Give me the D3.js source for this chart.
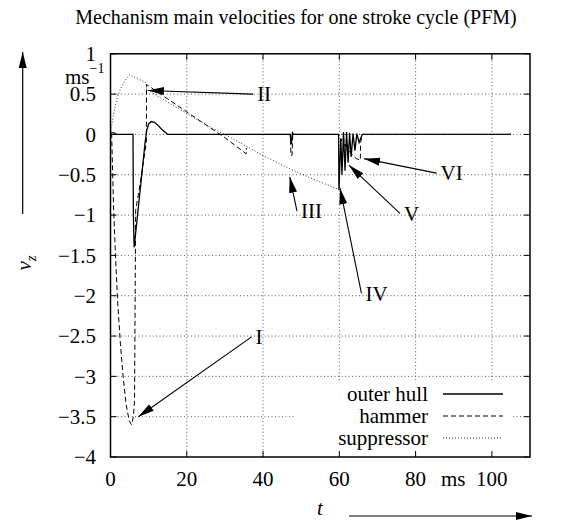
<!DOCTYPE html>
<html>
<head>
  <meta charset="utf-8">
  <title>Mechanism main velocities</title>
  <script src="https://d3js.org/d3.v7.min.js"></script>
  <style>
    body { margin: 0; background: #fff; }
    svg { display: block; }
  </style>
</head>
<body>
  <svg width="565" height="521"></svg>

  <script>
    const width = 565;
    const height = 521;
    const svg = d3.select("svg")
      .attr("font-family", "'Liberation Serif', 'Times New Roman', Tinos, 'DejaVu Serif', serif");

    // time in ms, velocity in m/s
    const hullT = [0, 1, 1.5, 5.9, 6.0, 6.2, 7, 8, 9, 9.5, 10, 10.7, 11.5, 12.5, 13.5, 14.5, 15,
      47.1, 47.4, 47.7, 48, 59.8, 59.9, 60.4, 60.7, 61.1, 61.5, 61.9, 62.3, 62.7, 63.1, 63.6, 64.1, 64.6, 65.2, 66, 67, 105];
    const hullV = [0.02, 0.02, 0, 0, -1.0, -1.4, -1.04, -0.59, -0.13, 0.05, 0.13, 0.16, 0.15, 0.11, 0.06, 0.02, 0,
      0, -0.12, 0.02, 0, 0, -0.69, -0.05, -0.5, 0.03, -0.45, 0.03, -0.35, 0.02, -0.28, 0.01, -0.2, 0.01, -0.1, 0, 0, 0];

    const hammerT = [0, 0.3, 0.8, 1.3, 1.9, 2.6, 3.3, 4.1, 4.9, 5.5, 6.0, 6.3, 6.6, 7.5, 9.4, 9.45, 15, 20, 25, 30, 35.6, 35.7,
      null, 36, 47.2, 47.3, 47.6, 47.8, 59.8, 60.5, 61, 61.5, 62, 62.5, 63.5, 64.5, 65.5, 65.6, 66, 105];
    const hammerV = [0, 0, -0.9, -1.5, -2.1, -2.6, -3.0, -3.35, -3.55, -3.6, -3.5, -3.3, -0.94, -0.69, -0.1, 0.62, 0.44, 0.28, 0.12, -0.04, -0.24, -0.17,
      null, 0, 0, -0.26, -0.26, 0, 0, -0.08, -0.02, -0.15, -0.1, -0.2, -0.26, -0.3, -0.32, -0.1, 0, 0];

    const suppT = [0, 0.3, 0.7, 1.1, 1.6, 2.2, 2.9, 3.6, 4.3, 4.9, 9.4, 9.45, 15, 20, 25, 30, 35, 40, 45, 50, 55, 59.8, 59.85, 105];
    const suppV = [0, 0.1, 0.22, 0.32, 0.43, 0.52, 0.59, 0.65, 0.7, 0.74, 0.64, 0.56, 0.40, 0.26, 0.12, 0.0, -0.13, -0.26, -0.38, -0.49, -0.59, -0.68, 0, 0];

    const seriesNames = ["outer hull", "hammer", "suppressor"];
    const xTicks = [0, 20, 40, 60, 80, 100];
    const yTicks = [-4, -3.5, -3, -2.5, -2, -1.5, -1, -0.5, 0, 0.5, 1];

    // annotation arrows: label, tip (t, v), tail (t, v)
    const annLabels = ["I", "II", "III", "IV", "V", "VI"];
    const annTip = [[7.3, -3.5], [9.8, 0.545], [47.0, -0.525], [60.2, -0.668], [62.5, -0.38], [66.5, -0.3]];
    const annTail = [[37.0, -2.51], [37.4, 0.5], [48.9, -0.95], [65.8, -1.97], [75.9, -0.98], [85.5, -0.48]];

    const x = d3.scaleLinear().domain([0, 110]).range([110.5, 530]);
    const y = d3.scaleLinear().domain([-4, 1]).range([457, 53.8]);

    const styles = [
      { width: 1.3, dash: null, color: "#000" },
      { width: 1, dash: "5,3", color: "#000" },
      { width: 1, dash: "1,2", color: "#333" }
    ];

    svg.append("defs").append("marker")
      .attr("id", "head")
      .attr("viewBox", "0 0 16 10")
      .attr("refX", 16).attr("refY", 5)
      .attr("markerWidth", 16).attr("markerHeight", 10)
      .attr("markerUnits", "userSpaceOnUse")
      .attr("orient", "auto")
      .append("path").attr("d", "M0,1 L16,5 L0,9 Z").attr("fill", "#000");

    // title
    svg.append("text").attr("x", 296).attr("y", 24)
      .attr("text-anchor", "middle").style("font-size", "20px")
      .text("Mechanism main velocities for one stroke cycle (PFM)");

    // grid
    const grid = svg.append("g").attr("stroke", "#444").attr("stroke-width", 0.9).attr("stroke-dasharray", "1,2.5");
    xTicks.filter(d => d > 0).forEach(d => {
      grid.append("line").attr("x1", x(d)).attr("x2", x(d)).attr("y1", y(1)).attr("y2", y(-4));
    });
    yTicks.filter(d => d > -4 && d < 1).forEach(d => {
      grid.append("line").attr("x1", x(0)).attr("x2", x(110)).attr("y1", y(d)).attr("y2", y(d));
    });

    // legend box hides the grid under it
    svg.append("rect").attr("x", 295).attr("y", 383).attr("width", 218).attr("height", 74).attr("fill", "#fff");

    // series
    const allT = [hullT, hammerT, suppT];
    const allV = [hullV, hammerV, suppV];
    const line = d3.line()
      .defined(d => d[0] !== null)
      .x(d => x(d[0])).y(d => y(d[1]));
    allT.forEach((ts, i) => {
      const pts = ts.map((t, j) => [t, allV[i][j]]);
      svg.append("path").attr("d", line(pts))
        .attr("fill", "none")
        .attr("stroke", styles[i].color)
        .attr("stroke-width", styles[i].width)
        .attr("stroke-dasharray", styles[i].dash);
    });

    // frame and inward ticks
    const frame = svg.append("g").attr("stroke", "#000");
    frame.append("rect").attr("x", x(0)).attr("y", y(1))
      .attr("width", x(110) - x(0)).attr("height", y(-4) - y(1))
      .attr("fill", "none").attr("stroke-width", 1.5);
    xTicks.forEach(d => {
      frame.append("line").attr("x1", x(d)).attr("x2", x(d)).attr("y1", y(-4)).attr("y2", y(-4) - 6);
      frame.append("line").attr("x1", x(d)).attr("x2", x(d)).attr("y1", y(1)).attr("y2", y(1) + 6);
    });
    yTicks.forEach(d => {
      frame.append("line").attr("x1", x(0)).attr("x2", x(0) + 6).attr("y1", y(d)).attr("y2", y(d));
      frame.append("line").attr("x1", x(110)).attr("x2", x(110) - 6).attr("y1", y(d)).attr("y2", y(d));
    });

    // tick labels
    const fmt = d => String(d).replace("-", "\u2212");
    svg.append("g").selectAll("text").data(yTicks).join("text")
      .attr("x", 96).attr("y", d => y(d)).attr("dy", "0.35em")
      .attr("text-anchor", "end").style("font-size", "21px")
      .text(fmt);
    svg.append("g").selectAll("text").data(xTicks).join("text")
      .attr("x", d => x(d)).attr("y", 486)
      .attr("text-anchor", "middle").style("font-size", "21px")
      .text(d => d);

    // units
    const unitY = svg.append("text").attr("x", 65).attr("y", 84).style("font-size", "21px");
    unitY.append("tspan").text("ms");
    unitY.append("tspan").attr("dy", -11).style("font-size", "14px").text("\u22121");
    svg.append("text").attr("x", 441).attr("y", 486).style("font-size", "21px").text("ms");

    // axis labels with arrows
    const vl = svg.append("text").attr("transform", "translate(31,263) rotate(-90)")
      .attr("text-anchor", "middle").style("font-size", "21px");
    vl.append("tspan").style("font-style", "italic").text("v");
    vl.append("tspan").attr("dy", 5).style("font-size", "15px").style("font-style", "italic").text("z");
    svg.append("line").attr("x1", 22.7).attr("x2", 22.7).attr("y1", 214).attr("y2", 52)
      .attr("stroke", "#000").attr("stroke-width", 1.2).attr("marker-end", "url(#head)");

    svg.append("text").attr("x", 317).attr("y", 515).style("font-size", "21px")
      .style("font-style", "italic").text("t");
    svg.append("line").attr("x1", 349).attr("x2", 532).attr("y1", 516).attr("y2", 516)
      .attr("stroke", "#000").attr("stroke-width", 1.2).attr("marker-end", "url(#head)");

    // annotations
    annLabels.forEach((lab, i) => {
      svg.append("line")
        .attr("x1", x(annTail[i][0])).attr("y1", y(annTail[i][1]))
        .attr("x2", x(annTip[i][0])).attr("y2", y(annTip[i][1]))
        .attr("stroke", "#000").attr("stroke-width", 1.1).attr("marker-end", "url(#head)");
      svg.append("text")
        .attr("x", x(annTail[i][0]) + 4).attr("y", y(annTail[i][1])).attr("dy", "0.35em")
        .style("font-size", "21px").text(lab);
    });

    // legend
    const legY = [394, 416, 438];
    seriesNames.forEach((name, i) => {
      svg.append("text").attr("x", 428).attr("y", legY[i]).attr("dy", "0.35em")
        .attr("text-anchor", "end").style("font-size", "21px").text(name);
      svg.append("line").attr("x1", 443).attr("x2", 503).attr("y1", legY[i]).attr("y2", legY[i])
        .attr("stroke", styles[i].color)
        .attr("stroke-width", styles[i].width)
        .attr("stroke-dasharray", styles[i].dash);
    });
  </script>
</body>
</html>
